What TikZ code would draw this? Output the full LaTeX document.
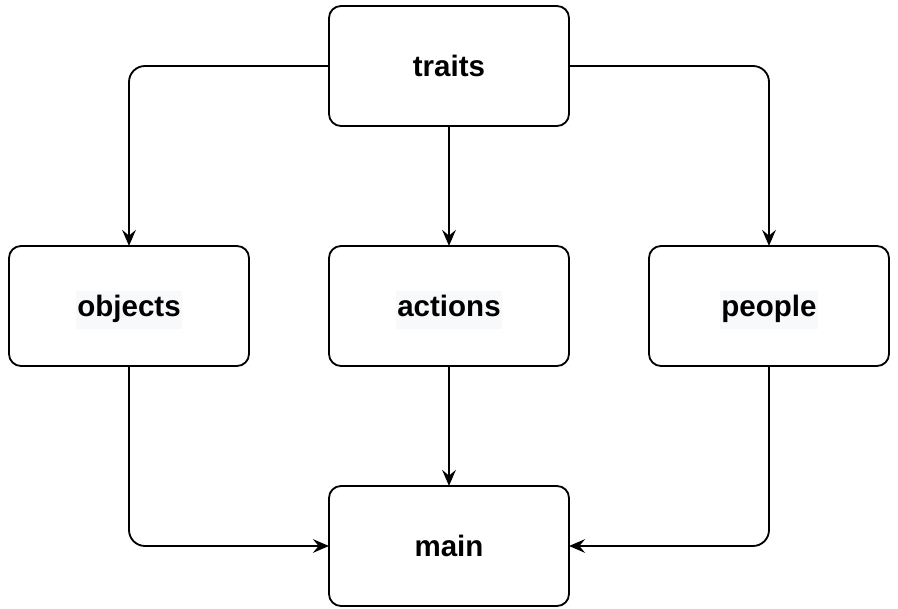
\documentclass[tikz,border=0pt]{standalone}
\usepackage{fontspec}
\setmainfont{Liberation Sans}
\usetikzlibrary{arrows.meta,positioning}
\definecolor{Mark}{HTML}{F8F9FA}
\newcommand{\marked}[1]{\raisebox{0pt}[0.73em][0pt]{\setlength{\fboxsep}{1pt}\colorbox{Mark}{\strut #1}}}

\begin{document}
\begin{tikzpicture}[>={Stealth[length=4mm,width=3.4mm,inset=1.4mm]},
    box/.style={draw,line width=1.3pt,outer sep=0pt,rounded corners=3mm,minimum width=6cm,minimum height=3cm,font=\fontsize{21}{25}\selectfont\bfseries},
    link/.style={->,line width=1.3pt,rounded corners=4mm},
    node distance=3cm and 2cm]
    \useasboundingbox (0,0) rectangle (22.45,-15.225);
    \node[box] (traits) at (11.225,-1.65) {traits};
    \node[box,below=of traits] (actions) {\marked{actions}};
    \node[box,left=of actions] (objects) {\marked{objects}};
    \node[box,right=of actions] (people) {\marked{people}};
    \node[box,below=of actions] (main) {main};
    \draw[link] (traits.west) -| (objects.north);\draw[link] (traits.east) -| (people.north);
    \draw[link] (traits)--(actions);\draw[link] (actions)--(main);
    \draw[link] (objects.south) |- (main.west);\draw[link] (people.south) |- (main.east);
  \end{tikzpicture}
\end{document}
